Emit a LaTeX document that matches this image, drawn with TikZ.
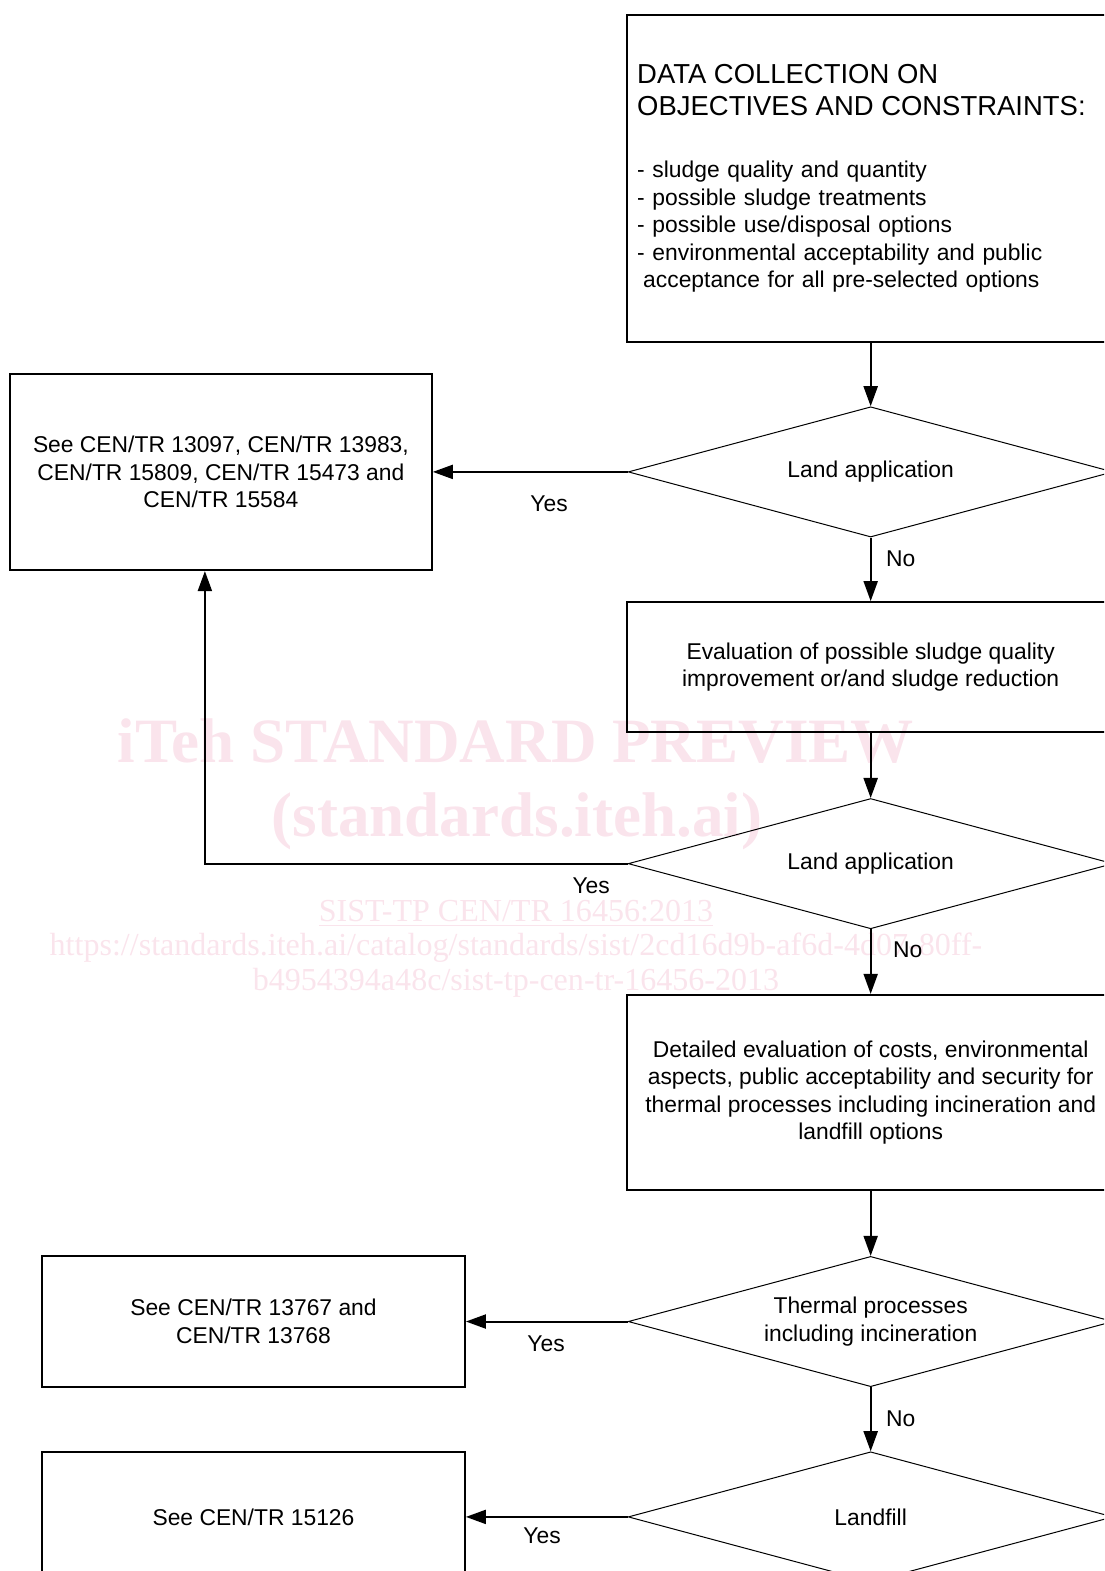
\documentclass[tikz,border=0pt]{standalone}
\usepackage{fontspec}
\setmainfont{Liberation Sans}
\newfontfamily\wmfont{Liberation Serif}
\usetikzlibrary{shapes.geometric,arrows.meta}
\definecolor{wmpink}{RGB}{250,228,236}

\begin{document}
\begin{tikzpicture}[x=0.5pt,y=-0.5pt,>={Triangle[length=10pt,width=7pt]},
    every node/.style={font=\fontsize{11.4}{13.75}\selectfont},
    box/.style={draw,line width=1pt,rectangle,align=center,inner sep=5pt},
    decision/.style={draw,diamond,aspect=3.72,line width=0.5pt,minimum width=242pt,minimum height=65pt,inner sep=0pt,align=center},
    link/.style={->,line width=1pt},
    wmbig/.style={text=wmpink,anchor=base,font=\wmfont\bfseries\fontsize{31.5}{37}\selectfont},
    wmsmall/.style={text=wmpink,anchor=base,font=\wmfont\fontsize{16}{17.5}\selectfont}]
    \useasboundingbox (0,0) rectangle (1102,1568);
    \clip (0,0) rectangle (1102,1568);
    % watermark
    \node[wmbig] (wm1) at (515,761) {iTeh STANDARD PREVIEW};
    \node[wmbig] (wm2) at (516,835) {(standards.iteh.ai)};
    \node[wmsmall] (wm3) at (515,920) {\underline{SIST-TP CEN/TR 16456:2013}};
    \node[wmsmall] (wm4) at (515,954) {https://standards.iteh.ai/catalog/standards/sist/2cd16d9b-af6d-4d07-80ff-};
    \node[wmsmall] (wm5) at (515,989) {b4954394a48c/sist-tp-cen-tr-16456-2013};
    % boxes
    \node[box,align=left,text width=233pt,minimum width=243pt,minimum height=163pt] (data) at (869,178)
        {{\fontsize{13.7}{16}\selectfont DATA COLLECTION ON\\OBJECTIVES AND CONSTRAINTS:\par}\vspace{17.25pt}%
         - sludge quality and quantity\\- possible sludge treatments\\- possible use/disposal options\\%
         - environmental acceptability and public\\\hspace*{3pt}acceptance for all pre-selected options\par};
    \node[box,minimum width=210.5pt,minimum height=98pt] (see1) at (220.5,471)
        {See CEN/TR 13097, CEN/TR 13983,\\CEN/TR 15809, CEN/TR 15473 and\\CEN/TR 15584};
    \node[box,minimum width=243pt,minimum height=65pt] (eval) at (869,666)
        {Evaluation of possible sludge quality\\improvement or/and sludge reduction};
    \node[box,minimum width=243pt,minimum height=97.5pt] (detail) at (869,1090.5)
        {Detailed evaluation of costs, environmental\\aspects, public acceptability and security for\\thermal processes including incineration and\\landfill options};
    \node[box,minimum width=211pt,minimum height=65pt] (see2) at (253,1319) {See CEN/TR 13767 and\\CEN/TR 13768};
    \node[box,minimum width=211pt,minimum height=65pt] (see3) at (253,1514) {See CEN/TR 15126};
    % decisions
    \node[decision] (land1) at (869,471) {Land application};
    \node[decision] (land2) at (869,862) {Land application};
    \node[decision] (thermal) at (869,1319) {Thermal processes\\including incineration};
    \node[decision] (landfill) at (869,1514) {Landfill};
    % connectors
    \draw[link] (data) -- (land1);
    \draw[link] (land1) -- (see1);
    \draw[link] (land1) -- (eval);
    \draw[link] (eval) -- (land2);
    \draw[link] (land2.west) -| ([xshift=-8pt]see1.south);
    \draw[link] (land2) -- (detail);
    \draw[link] (detail) -- (thermal);
    \draw[link] (thermal) -- (see2);
    \draw[link] (thermal) -- (landfill);
    \draw[link] (landfill) -- (see3);
    % labels
    \node (yes1) at (548,503) {Yes};
    \node (yes2) at (590,884) {Yes};
    \node (yes3) at (545,1341) {Yes};
    \node (yes4) at (541,1533) {Yes};
    \node (no1) at (899,558) {No};
    \node (no2) at (906,948) {No};
    \node (no3) at (899,1416) {No};
\end{tikzpicture}
\end{document}
